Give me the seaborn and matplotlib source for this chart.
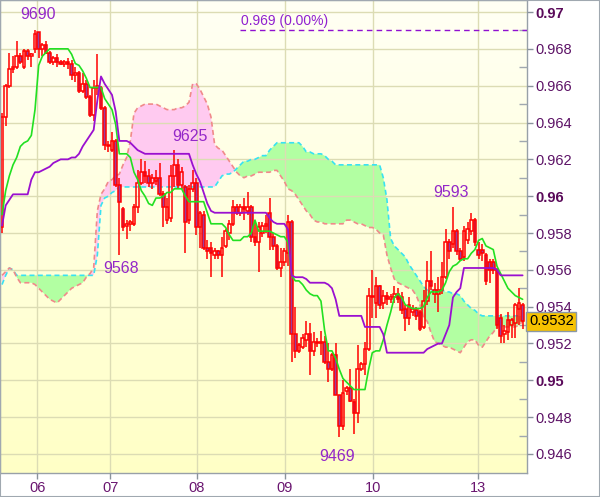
import numpy as np
import pandas as pd
import matplotlib
matplotlib.use('Agg')
import matplotlib.pyplot as plt
import matplotlib.transforms as mtransforms
from matplotlib.colors import LinearSegmentedColormap
from matplotlib.patches import Rectangle
from matplotlib.ticker import FixedLocator, FixedFormatter
import seaborn as sns

# ---- data (prices in units of 0.0001) ----
day_labels = ['06', '07', '08', '09', '10', '13']
day_ticks = [9.6, 29.5, 53.2, 77.2, 101.2, 129.9]

opens = [9583, 9643, 9660, 9669, 9670, 9676, 9670, 9679, 9676, 9680,
         9689, 9680, 9682, 9678, 9673, 9675, 9673, 9672, 9673, 9672,
         9666, 9667, 9657, 9661, 9654, 9644, 9659, 9659, 9648, 9628,
         9625, 9630, 9606, 9593, 9584, 9585, 9585, 9594, 9607, 9613,
         9611, 9607, 9608, 9610, 9601, 9587, 9588, 9611, 9617, 9606,
         9605, 9587, 9604, 9607, 9583, 9590, 9572, 9572, 9568, 9570,
         9568, 9573, 9580, 9585, 9594, 9591, 9594, 9592, 9594, 9578,
         9575, 9580, 9584, 9591, 9578, 9573, 9561, 9564, 9569, 9586,
         9525, 9516, 9518, 9522, 9525, 9516, 9521, 9520, 9521, 9510,
         9506, 9514, 9492, 9475, 9494, 9496, 9488, 9482, 9506, 9509,
         9517, 9546, 9542, 9551, 9542, 9546, 9544, 9545, 9547, 9545,
         9539, 9534, 9537, 9538, 9537, 9529, 9543, 9554, 9547, 9547,
         9549, 9556, 9575, 9574, 9581, 9570, 9567, 9576, 9581, 9587,
         9571, 9571, 9568, 9564, 9564, 9560, 9534, 9525, 9526, 9530,
         9531, 9539, 9541]
highs = [9645, 9661, 9678, 9676, 9684, 9678, 9680, 9680, 9678, 9690,
         9689, 9683, 9684, 9679, 9676, 9677, 9674, 9674, 9675, 9674,
         9670, 9668, 9667, 9663, 9655, 9663, 9677, 9660, 9649, 9630,
         9635, 9631, 9610, 9594, 9587, 9587, 9596, 9614, 9620, 9619,
         9615, 9612, 9614, 9618, 9603, 9599, 9617, 9625, 9620, 9616,
         9606, 9606, 9614, 9610, 9592, 9592, 9576, 9575, 9572, 9571,
         9578, 9582, 9587, 9598, 9596, 9596, 9599, 9602, 9595, 9586,
         9586, 9586, 9590, 9599, 9580, 9574, 9572, 9572, 9590, 9587,
         9540, 9520, 9525, 9532, 9531, 9526, 9523, 9527, 9524, 9520,
         9515, 9520, 9492, 9500, 9497, 9506, 9490, 9519, 9510, 9521,
         9550, 9560, 9556, 9552, 9549, 9548, 9547, 9551, 9550, 9548,
         9541, 9545, 9541, 9540, 9538, 9549, 9565, 9570, 9553, 9556,
         9564, 9582, 9577, 9594, 9582, 9572, 9584, 9586, 9591, 9588,
         9575, 9574, 9569, 9566, 9566, 9561, 9536, 9530, 9537, 9534,
         9542, 9550, 9542]
lows = [9580, 9638, 9659, 9667, 9669, 9672, 9669, 9674, 9670, 9678,
        9675, 9676, 9677, 9672, 9671, 9670, 9671, 9670, 9669, 9663,
        9662, 9656, 9656, 9653, 9643, 9641, 9655, 9647, 9625, 9624,
        9624, 9605, 9568, 9581, 9577, 9581, 9584, 9591, 9606, 9607,
        9605, 9604, 9606, 9600, 9583, 9585, 9586, 9605, 9604, 9604,
        9569, 9585, 9602, 9579, 9572, 9571, 9566, 9556, 9566, 9566,
        9556, 9572, 9576, 9584, 9590, 9589, 9587, 9590, 9575, 9573,
        9559, 9578, 9580, 9571, 9571, 9560, 9556, 9562, 9562, 9510,
        9512, 9515, 9517, 9518, 9503, 9513, 9518, 9514, 9509, 9499,
        9505, 9492, 9469, 9473, 9492, 9488, 9471, 9477, 9505, 9503,
        9516, 9534, 9534, 9539, 9539, 9541, 9542, 9542, 9542, 9536,
        9527, 9530, 9535, 9533, 9527, 9528, 9541, 9549, 9542, 9537,
        9547, 9555, 9566, 9572, 9568, 9565, 9565, 9574, 9579, 9573,
        9566, 9565, 9552, 9553, 9558, 9528, 9520, 9520, 9522, 9523,
        9523, 9530, 9528]
closes = [9643, 9660, 9669, 9670, 9676, 9673, 9679, 9676, 9677, 9688,
          9680, 9682, 9678, 9673, 9675, 9673, 9672, 9673, 9672, 9666,
          9667, 9657, 9661, 9654, 9644, 9659, 9660, 9648, 9628, 9627,
          9630, 9606, 9597, 9583, 9585, 9586, 9594, 9607, 9613, 9611,
          9607, 9610, 9610, 9601, 9594, 9594, 9611, 9617, 9606, 9613,
          9586, 9604, 9607, 9583, 9591, 9572, 9570, 9569, 9570, 9568,
          9572, 9581, 9585, 9594, 9591, 9594, 9593, 9594, 9578, 9575,
          9583, 9584, 9585, 9578, 9573, 9561, 9564, 9570, 9586, 9525,
          9516, 9519, 9523, 9525, 9516, 9521, 9520, 9521, 9510, 9506,
          9514, 9492, 9475, 9493, 9496, 9489, 9482, 9506, 9509, 9517,
          9546, 9545, 9551, 9541, 9546, 9544, 9545, 9547, 9544, 9538,
          9534, 9541, 9539, 9535, 9528, 9543, 9554, 9551, 9549, 9549,
          9556, 9575, 9570, 9581, 9570, 9566, 9581, 9582, 9587, 9575,
          9568, 9569, 9554, 9560, 9560, 9530, 9524, 9527, 9533, 9533,
          9541, 9542, 9532]

tenkan = [9590, 9603, 9611, 9617, 9621, 9627, 9629, 9630, 9633, 9647,
          9671, 9676, 9678, 9680, 9680, 9680, 9680, 9680, 9680, 9677,
          9672, 9671, 9668, 9664, 9659, 9659, 9659, 9659, 9653, 9650,
          9647, 9639, 9623, 9623, 9623, 9621, 9613, 9609, 9603, 9600,
          9596, 9595, 9599, 9599, 9600, 9602, 9602, 9604, 9604, 9604,
          9600, 9597, 9597, 9597, 9597, 9597, 9591, 9585, 9585, 9585,
          9585, 9583, 9579, 9576, 9576, 9576, 9578, 9578, 9580, 9587,
          9581, 9581, 9581, 9581, 9580, 9579, 9578, 9578, 9575, 9557,
          9554, 9554, 9552, 9549, 9547, 9546, 9546, 9543, 9527, 9516,
          9516, 9512, 9506, 9501, 9499, 9497, 9495, 9495, 9495, 9495,
          9506, 9515, 9516, 9516, 9522, 9530, 9537, 9545, 9547, 9545,
          9541, 9540, 9539, 9539, 9539, 9540, 9545, 9548, 9548, 9548,
          9549, 9553, 9559, 9562, 9563, 9565, 9566, 9566, 9569, 9571,
          9576, 9577, 9573, 9572, 9571, 9562, 9558, 9554, 9550, 9548,
          9546, 9545, 9544]
kijun = [9584, 9595, 9598, 9601, 9601, 9601, 9601, 9601, 9609, 9613,
         9613, 9614, 9615, 9616, 9618, 9619, 9620, 9620, 9620, 9621,
         9621, 9623, 9627, 9630, 9633, 9636, 9652, 9665, 9661, 9658,
         9655, 9646, 9630, 9630, 9630, 9629, 9627, 9625, 9624, 9623,
         9623, 9623, 9623, 9623, 9623, 9623, 9623, 9623, 9623, 9623,
         9623, 9623, 9617, 9612, 9608, 9602, 9596, 9592, 9591, 9591,
         9591, 9591, 9591, 9591, 9591, 9591, 9591, 9591, 9591, 9591,
         9591, 9591, 9591, 9588, 9586, 9585, 9585, 9585, 9582, 9557,
         9556, 9556, 9556, 9555, 9553, 9553, 9553, 9553, 9553, 9552,
         9550, 9544, 9535, 9535, 9535, 9535, 9535, 9535, 9535, 9529,
         9529, 9529, 9529, 9529, 9525, 9515, 9515, 9515, 9515, 9515,
         9515, 9515, 9515, 9515, 9515, 9515, 9517, 9518, 9519, 9520,
         9520, 9525, 9530, 9545, 9548, 9550, 9561, 9561, 9561, 9561,
         9561, 9561, 9561, 9561, 9561, 9560, 9557, 9557, 9557, 9557,
         9557, 9557, 9557]
span_a = [9552, 9557, 9561, 9560, 9557, 9557, 9557, 9557, 9557, 9557,
          9557, 9557, 9557, 9557, 9557, 9557, 9557, 9557, 9557, 9557,
          9557, 9557, 9557, 9557, 9557, 9557, 9568, 9595, 9599, 9600,
          9602, 9603, 9605, 9605, 9605, 9605, 9605, 9605, 9605, 9605,
          9605, 9605, 9605, 9605, 9605, 9605, 9605, 9605, 9605, 9605,
          9605, 9605, 9605, 9605, 9605, 9605, 9605, 9605, 9605, 9608,
          9611, 9612, 9612, 9613, 9615, 9617, 9619, 9619, 9620, 9620,
          9621, 9622, 9622, 9625, 9627, 9629, 9629, 9629, 9629, 9629,
          9629, 9629, 9627, 9624, 9624, 9623, 9623, 9623, 9622, 9620,
          9619, 9617, 9617, 9617, 9617, 9617, 9617, 9617, 9617, 9617,
          9617, 9617, 9617, 9617, 9610, 9598, 9577, 9573, 9571, 9569,
          9567, 9563, 9560, 9557, 9554, 9551, 9549, 9549, 9549, 9549,
          9549, 9548, 9548, 9547, 9547, 9546, 9543, 9541, 9539, 9538,
          9536, 9535, 9535, 9535, 9535, 9535, 9535, 9535, 9535, 9535,
          9535, 9535, 9535]
span_b = [9557, 9559, 9561, 9560, 9556, 9553, 9553, 9553, 9553, 9552,
          9550, 9548, 9546, 9544, 9543, 9542, 9544, 9546, 9548, 9550,
          9551, 9552, 9553, 9556, 9558, 9561, 9592, 9601, 9604, 9608,
          9609, 9611, 9612, 9617, 9621, 9630, 9645, 9648, 9649, 9650,
          9650, 9650, 9650, 9649, 9648, 9647, 9647, 9647, 9648, 9648,
          9649, 9651, 9661, 9661, 9658, 9654, 9650, 9643, 9628, 9626,
          9625, 9622, 9619, 9616, 9613, 9611, 9610, 9611, 9611, 9612,
          9613, 9613, 9613, 9613, 9614, 9614, 9611, 9608, 9604, 9603,
          9601, 9598, 9595, 9592, 9590, 9587, 9586, 9586, 9585, 9585,
          9585, 9585, 9585, 9585, 9587, 9587, 9586, 9585, 9585, 9584,
          9583, 9583, 9582, 9580, 9579, 9568, 9561, 9555, 9553, 9552,
          9551, 9550, 9549, 9546, 9541, 9534, 9532, 9526, 9521, 9520,
          9519, 9518, 9518, 9517, 9516, 9515, 9518, 9521, 9522, 9522,
          9519, 9518, 9521, 9524, 9526, 9529, 9529, 9529, 9529, 9529,
          9529, 9530, 9532]

# swing high / low labels: bar where the text sits, price, offset (points)
peak_values = [0.9690, 0.9625, 0.9568, 0.9469, 0.9593]
peak_bars = [9.8, 51.3, 32.5, 91.4, 122.4]
peak_offsets = [11.5, 9.5, -10, -13.5, 12]

level_price = 0.969
level_start = 64.9
last_price = 0.9532

# ---- frame ----
df = pd.DataFrame({'o': opens, 'h': highs, 'l': lows, 'c': closes,
                   'tenkan': tenkan, 'kijun': kijun,
                   'span_a': span_a, 'span_b': span_b}) / 10000.0
df['bar'] = np.arange(len(df))

sns.set_theme(style='white')
plt.rcParams['font.family'] = ['Liberation Sans', 'DejaVu Sans']

fig = plt.figure(figsize=(6, 4.97), dpi=100)
fig.patch.set_facecolor('white')
ax = fig.add_axes([0.0, 24 / 497, 527 / 600, 473 / 497])

xlim = (-0.55, 143.2)
ylim = (0.944968, 0.970652)

# background gradient
bg = LinearSegmentedColormap.from_list('bg', ['#fffff4', '#ffffc6'])
ax.imshow(np.linspace(0, 1, 256).reshape(-1, 1), cmap=bg, aspect='auto',
          extent=[xlim[0], xlim[1], ylim[0], ylim[1]], origin='upper', zorder=0)

# cloud
x = df['bar'].values
a = df['span_a'].values
b = df['span_b'].values
ax.fill_between(x, a, b, where=a >= b, interpolate=True, color='#b2ffa2', lw=0, zorder=1)
ax.fill_between(x, a, b, where=a < b, interpolate=True, color='#ffcaf0', lw=0, zorder=1)
ax.plot(x, a, color='#38e2f2', lw=1.2, ls=(0, (3, 2)), zorder=2.6)
ax.plot(x, b, color='#f08a8a', lw=1.2, ls=(0, (3, 2)), zorder=2.6)

# candles
up = df['c'] >= df['o']
body_lo = df[['o', 'c']].min(axis=1)
body_hi = df[['o', 'c']].max(axis=1)
ax.vlines(x, body_hi, df['h'], color='#ff0000', lw=1.1, zorder=3)
ax.vlines(x, df['l'], body_lo, color='#ff0000', lw=1.1, zorder=3)
faces = np.where(up, 'none', '#9c3c9c')
ax.bar(x, body_hi - body_lo, bottom=body_lo, width=0.72, color=faces,
       edgecolor='#ff0000', linewidth=1.1, zorder=3.2)

# tenkan / kijun
sns.lineplot(data=df, x='bar', y='tenkan', ax=ax, color='#22e022', lw=1.2, zorder=4)
sns.lineplot(data=df, x='bar', y='kijun', ax=ax, color='#9a10d0', lw=1.3, zorder=4)

# level line
ax.hlines(level_price, level_start, xlim[1], colors='#9010d0', lw=1,
          linestyles=(0, (4, 3)), zorder=4)
ax.annotate(f'{level_price:.3f} (0.00%)', (level_start + 0.3, level_price),
            xytext=(0, 1.5), textcoords='offset points', ha='left', va='bottom',
            color='#9020d0', fontsize=10)

# swing labels
for v, bx, off in zip(peak_values, peak_bars, peak_offsets):
    ax.annotate(f'{int(round(v * 10000))}', (bx, v), xytext=(0, off),
                textcoords='offset points', ha='center', va='center',
                color='#9428c8', fontsize=11.5)

ax.set_xlim(*xlim)
ax.set_ylim(*ylim)

# axes styling
ax.set_axisbelow(False)
ax.grid(False)
for t in day_ticks:
    ax.axvline(t, color='#dcdcb4', lw=1, zorder=2.5)
yt = np.round(np.arange(0.946, 0.9705, 0.002), 3)
for v in yt:
    ax.axhline(v, color='#dcdcb4', lw=1, zorder=2.5)

ax.yaxis.tick_right()
ax.yaxis.set_major_locator(FixedLocator(yt))
ylabels = [f'{v:g}' for v in yt]
ax.yaxis.set_major_formatter(FixedFormatter(ylabels))
ax.yaxis.set_minor_locator(FixedLocator(np.round(np.arange(0.947, 0.970, 0.002), 3)))
ax.tick_params(axis='y', which='major', direction='out', length=4, width=1,
               color='#8a939c', pad=2, labelsize=10.5, labelcolor='#5c1266')
ax.tick_params(axis='y', which='minor', direction='in', length=6, width=1,
               color='#a0a8b0', right=True, left=False)
for lab in ax.get_yticklabels():
    if len(lab.get_text()) == 4:
        lab.set_fontweight('bold')
        lab.set_color('#5a0a5a')

ax.set_xticks(day_ticks)
ax.set_xticklabels(day_labels)
ax.tick_params(axis='x', direction='out', length=4, width=1, color='#8a939c',
               pad=2, labelsize=10.5, labelcolor='#6a1670', bottom=True)
ax.set_xlabel('')
ax.set_ylabel('')
for s in ax.spines.values():
    s.set_color('#98a0a8')
    s.set_linewidth(1)
    s.set_visible(True)

# last price box
trans = mtransforms.blended_transform_factory(ax.transAxes, ax.transData)
ax.text(1.004, last_price, f'{last_price:.4f}', transform=trans, ha='left',
        va='center', fontsize=10.5, color='black', zorder=6,
        bbox=dict(boxstyle='square,pad=0.18', fc='#f6c200', ec='#8a98a6', lw=1),
        clip_on=False)

fig.patches.append(Rectangle((0, 0), 1, 1, transform=fig.transFigure, fill=False,
                             ec='#a0a8b0', lw=1.5))

fig.savefig('out.png', dpi=100)
